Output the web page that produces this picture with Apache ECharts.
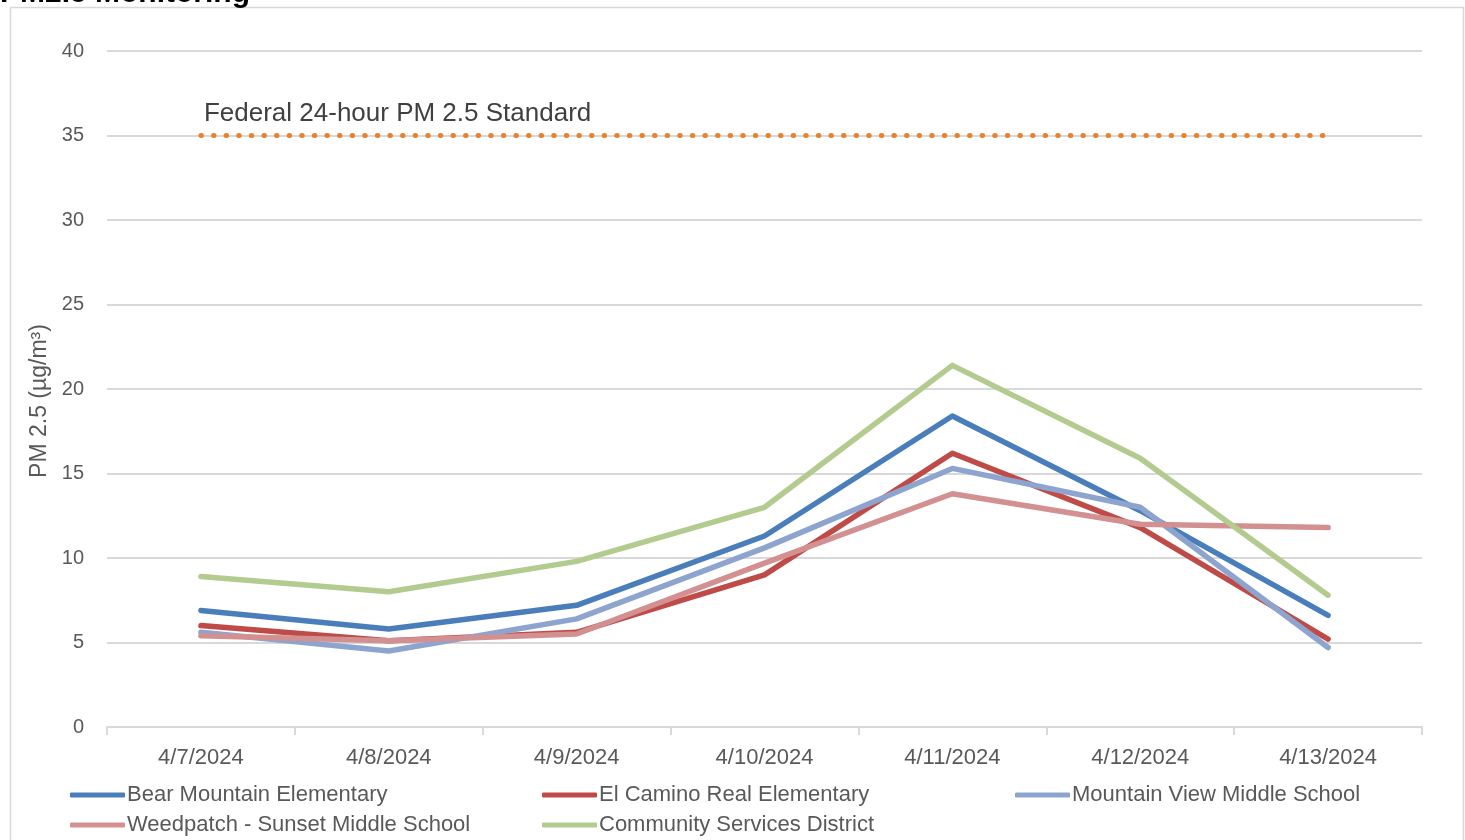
<!DOCTYPE html>
<html>
<head>
<meta charset="utf-8">
<script src="https://cdn.jsdelivr.net/npm/echarts@6/dist/echarts.min.js"></script>
<style>
  html, body { margin: 0; padding: 0; background: #fff; }
  #chart { width: 1465px; height: 840px; }
</style>
</head>
<body>
<div id="chart"></div>
<script>
  const dates = ['4/7/2024', '4/8/2024', '4/9/2024', '4/10/2024', '4/11/2024', '4/12/2024', '4/13/2024'];
  const bearMountain = [6.9, 5.8, 7.2, 11.3, 18.4, 12.8, 6.6];
  const elCamino = [6.0, 5.1, 5.6, 9.0, 16.2, 11.8, 5.2];
  const mountainView = [5.6, 4.5, 6.4, 10.6, 15.3, 13.0, 4.7];
  const weedpatch = [5.4, 5.1, 5.5, 9.7, 13.8, 12.0, 11.8];
  const community = [8.9, 8.0, 9.8, 13.0, 21.4, 15.9, 7.8];
  const standard = [35, 35, 35, 35, 35, 35, 35];

  const font = '"Liberation Sans", "DejaVu Sans", sans-serif';
  const textColor = '#595959';

  function lineSeries(name, data, color) {
    return {
      name: name,
      type: 'line',
      data: data,
      symbol: 'none',
      lineStyle: { color: color, width: 5.5, cap: 'round', join: 'round' },
      itemStyle: { color: color }
    };
  }

  // one legend per entry so they sit in Excel's column layout
  function legendAt(name, left, top) {
    return {
      left: left, top: top,
      itemWidth: 55, itemHeight: 5, icon: 'roundRect',
      textStyle: { fontSize: 22, color: textColor, fontFamily: font, padding: [0, 0, 0, -3] },
      data: [name]
    };
  }

  const chart = echarts.init(document.getElementById('chart'));
  chart.setOption({
    animation: false,
    backgroundColor: '#fff',
    textStyle: { fontFamily: font },
    graphic: [
      {
        type: 'rect',
        shape: { x: 10.5, y: 7.5, width: 1453, height: 850 },
        style: { fill: 'none', stroke: '#d9d9d9', lineWidth: 1.5 },
        silent: true
      },
      {
        type: 'text',
        left: 0,
        top: -21,
        style: { text: 'PM2.5 Monitoring', font: 'bold 30px ' + font, fill: '#000' }
      }
    ],
    grid: { left: 107, right: 43, top: 51, bottom: 113 },
    legend: [
      legendAt('Bear Mountain Elementary', 65, 779),
      legendAt('El Camino Real Elementary', 537, 779),
      legendAt('Mountain View Middle School', 1010, 779),
      legendAt('Weedpatch - Sunset Middle School', 65, 809),
      legendAt('Community Services District', 537, 809)
    ],
    xAxis: {
      type: 'category',
      data: dates,
      boundaryGap: true,
      axisLine: { lineStyle: { color: '#d9d9d9', width: 2 } },
      axisTick: { show: true, length: 8, interval: 0, lineStyle: { color: '#d9d9d9', width: 2 } },
      axisLabel: { fontSize: 22, color: textColor, margin: 20, interval: 0 }
    },
    yAxis: {
      type: 'value',
      min: 0,
      max: 40,
      interval: 5,
      name: 'PM 2.5 (µg/m³)',
      nameLocation: 'middle',
      nameGap: 56,
      nameTextStyle: { fontSize: 23, color: textColor, padding: [0, 24, 0, 0] },
      axisLine: { show: false },
      axisTick: { show: false },
      axisLabel: { fontSize: 20, color: textColor, margin: 23 },
      splitLine: { lineStyle: { color: '#d9d9d9', width: 2 } }
    },
    series: [
      lineSeries('Bear Mountain Elementary', bearMountain, '#4a7ebb'),
      lineSeries('El Camino Real Elementary', elCamino, '#be4b48'),
      lineSeries('Mountain View Middle School', mountainView, '#8da5ce'),
      lineSeries('Weedpatch - Sunset Middle School', weedpatch, '#d39090'),
      lineSeries('Community Services District', community, '#b3cb8f'),
      {
        name: 'Federal 24-hour PM 2.5 Standard',
        type: 'line',
        data: standard.map(function (v, i) {
          return i === 0 ? {
            value: v,
            label: {
              show: true,
              position: 'top',
              align: 'left',
              verticalAlign: 'bottom',
              distance: 9,
              offset: [3, 0],
              formatter: 'Federal 24-hour PM 2.5 Standard',
              fontSize: 26,
              color: '#404040',
              fontFamily: font
            }
          } : v;
        }),
        symbol: 'circle',
        symbolSize: 0.1,
        itemStyle: { color: '#e8822f' },
        lineStyle: { color: '#e8822f', width: 5, type: [0.5, 12.1], cap: 'round' }
      }
    ]
  });
</script>
</body>
</html>
